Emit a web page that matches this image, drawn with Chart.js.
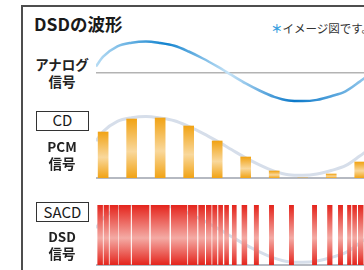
<!DOCTYPE html>
<html lang="ja">
<head>
<meta charset="utf-8">
<script src="https://cdn.jsdelivr.net/npm/chart.js@4.4.1/dist/chart.umd.min.js"></script>
<style>
  html, body { margin: 0; padding: 0; background: #fff; }
  body {
    width: 364px; height: 270px; overflow: hidden; position: relative;
    font-family: "Noto Sans CJK JP", "Noto Sans", sans-serif; color: #222;
  }
  .frame {
    position: absolute; left: 21px; top: 5px; width: 400px; height: 300px;
    border-top: 2px solid #4d4d4d; border-left: 2px solid #4d4d4d;
  }
  .title { position: absolute; left: 34px; top: 15px; font-size: 17.5px; line-height: 17px; font-weight: bold; color: #1a1a1a; }
  .note { position: absolute; left: 271px; top: 21px; font-size: 11.5px; line-height: 14px; white-space: nowrap; color: #333; }
  .note span { color: #3aa0e0; font-weight: bold; }
  .label {
    position: absolute; left: 22px; width: 80px; text-align: center;
    font-size: 13.5px; line-height: 16.5px; font-weight: bold; color: #222;
  }
  .box {
    position: absolute; left: 36px; width: 53px; box-sizing: border-box;
    border: 1.5px solid #333; text-align: center; font-size: 15px; color: #1a1a1a;
  }
  canvas { position: absolute; left: 96px; }
</style>
</head>
<body>
<div class="frame"></div>
<div class="title">DSDの波形</div>
<div class="note"><span>＊</span>イメージ図です。</div>

<div class="label" style="top:56px">アナログ<br>信号</div>
<canvas id="analog" width="278" height="73" style="top:36px"></canvas>

<div class="box" style="top:111px;height:19.5px;line-height:16.5px">CD</div>
<div class="label" style="top:138px">PCM<br>信号</div>
<canvas id="pcm" width="278" height="76" style="top:105px"></canvas>

<div class="box" style="top:201.5px;height:20px;line-height:17px">SACD</div>
<div class="label" style="top:228px">DSD<br>信号</div>
<canvas id="dsd" width="278" height="65" style="top:205px"></canvas>

<script>
// shared time axis: one PCM sample every 10 units
const timeRange = [-2.5, 95];

// PCM samples
const sampleTimes = [0, 10, 20, 30, 40, 50, 60, 70, 80, 90];
const pcmLevels = [46, 59, 60, 52, 37, 21, 7, 0, 4, 16];

// analog wave
const waveTimes = [-2.5, 0, 5, 10, 15, 20, 25, 30, 35, 40, 45, 50, 55, 60, 65, 70, 75, 80, 85, 90, 95];
const waveValues = [0.2, 0.52, 0.86, 0.98, 1.02, 0.97, 0.88, 0.69, 0.46, 0.2, -0.08, -0.36, -0.6, -0.8, -0.92, -0.94, -0.9, -0.78, -0.62, -0.3, 0.05];

// DSD pulses as [start, end]
const dsdPulses = [
  [-1.9, -0.2], [0.3, 1.9], [2.4, 5.2], [5.6, 9.6], [10.2, 16.1], [16.8, 23.2],
  [23.9, 29.4], [29.9, 32.9], [33.5, 35.6], [36.2, 37.9], [38.4, 39.9], [40.5, 41.9],
  [42.6, 44.0], [45.3, 46.7], [48.7, 50.4], [53.0, 54.5], [58.3, 59.8], [65.3, 66.8],
  [73.4, 74.9], [78.7, 80.3], [82.5, 84.0], [85.7, 86.9], [87.5, 88.9], [89.5, 91.2], [92.0, 93.6]
];

const wavePoints = waveTimes.map((t, i) => ({ x: t, y: waveValues[i] }));

const common = {
    responsive: false,
    animation: false,
    events: [],
    plugins: { legend: { display: false }, tooltip: { enabled: false } }
};

// x axis drawn only as its border line (the baseline)
const timeAxis = (position, color, width) => ({
    type: 'linear',
    min: timeRange[0],
    max: timeRange[1],
    offset: false,
    position: position,
    ticks: { display: false },
    grid: { display: false },
    border: { display: true, color: color, width: width }
});

// blue shading along the analog wave
function analogStroke(c) {
    const { ctx, chartArea, scales } = c.chart;
    if (!chartArea) return '#3a9ad9';
    const x0 = scales.x.getPixelForValue(timeRange[0]);
    const x1 = scales.x.getPixelForValue(timeRange[1]);
    const g = ctx.createLinearGradient(x0, 0, x1, 0);
    const shades = [[-2.5, '#b7dcf4'], [22, '#1283cf'], [44, '#c6e3f7'], [67, '#0a78c9'], [95, '#a2d0ef']];
    shades.forEach(([t, col]) => g.addColorStop((t - timeRange[0]) / (timeRange[1] - timeRange[0]), col));
    return g;
}

function pcmFill(c) {
    const chart = c.chart;
    if (!chart.chartArea || c.type !== 'data') return '#f2a81d';
    const y = chart.scales.y;
    const top = y.getPixelForValue(c.raw.y);
    const bottom = y.getPixelForValue(0);
    if (bottom - top < 1) return '#f2a81d';
    const g = chart.ctx.createLinearGradient(0, top, 0, bottom);
    g.addColorStop(0, '#f1a315');
    g.addColorStop(0.55, '#f9d89c');
    g.addColorStop(1, '#f1a315');
    return g;
}

function dsdFill(c) {
    const { ctx, chartArea } = c.chart;
    if (!chartArea) return '#e4281f';
    const g = ctx.createLinearGradient(0, chartArea.top, 0, chartArea.bottom);
    g.addColorStop(0, '#e4241c');
    g.addColorStop(0.55, '#f4aba5');
    g.addColorStop(1, '#e4241c');
    return g;
}

const ghostWave = (axisId) => ({
    type: 'line',
    data: wavePoints,
    yAxisID: axisId,
    borderColor: '#d6deea',
    borderWidth: 3,
    pointRadius: 0,
    cubicInterpolationMode: 'monotone',
    order: 2
});

// Analog
new Chart(document.getElementById('analog'), {
    type: 'line',
    data: {
        datasets: [{
            data: wavePoints,
            borderColor: analogStroke,
            borderWidth: 2.5,
            pointRadius: 0,
            cubicInterpolationMode: 'monotone'
        }]
    },
    options: {
        ...common,
        scales: {
            x: timeAxis({ y: 0 }, '#b3b3b3', 1.5),
            y: { type: 'linear', min: -1.2, max: 1.2, display: false }
        }
    }
});

// PCM
new Chart(document.getElementById('pcm'), {
    type: 'bar',
    data: {
        datasets: [
            {
                type: 'bar',
                data: sampleTimes.map((t, i) => ({ x: t, y: pcmLevels[i] })),
                backgroundColor: pcmFill,
                barThickness: 10,
                order: 1
            },
            ghostWave('yw')
        ]
    },
    options: {
        ...common,
        layout: { padding: { bottom: 3 } },
        scales: {
            x: timeAxis({ y: 0 }, '#b5b9c1', 2),
            y: { type: 'linear', min: 0, max: 73, display: false },
            yw: { type: 'linear', min: -1.03, max: 1.403, display: false }
        }
    }
});

// DSD
new Chart(document.getElementById('dsd'), {
    type: 'bar',
    data: {
        datasets: [
            {
                type: 'bar',
                indexAxis: 'y',
                data: dsdPulses.map(p => ({ x: p, y: 'DSD' })),
                backgroundColor: dsdFill,
                categoryPercentage: 1,
                barPercentage: 1,
                order: 1
            },
            ghostWave('yw')
        ]
    },
    options: {
        ...common,
        layout: { padding: { bottom: 5 } },
        scales: {
            x: timeAxis({ yw: -1.03 }, '#b5b9c1', 2),
            y: { type: 'category', labels: ['DSD'], offset: true, display: false },
            yw: { type: 'linear', min: -1.03, max: 0.97, display: false }
        }
    }
});
</script>
</body>
</html>
